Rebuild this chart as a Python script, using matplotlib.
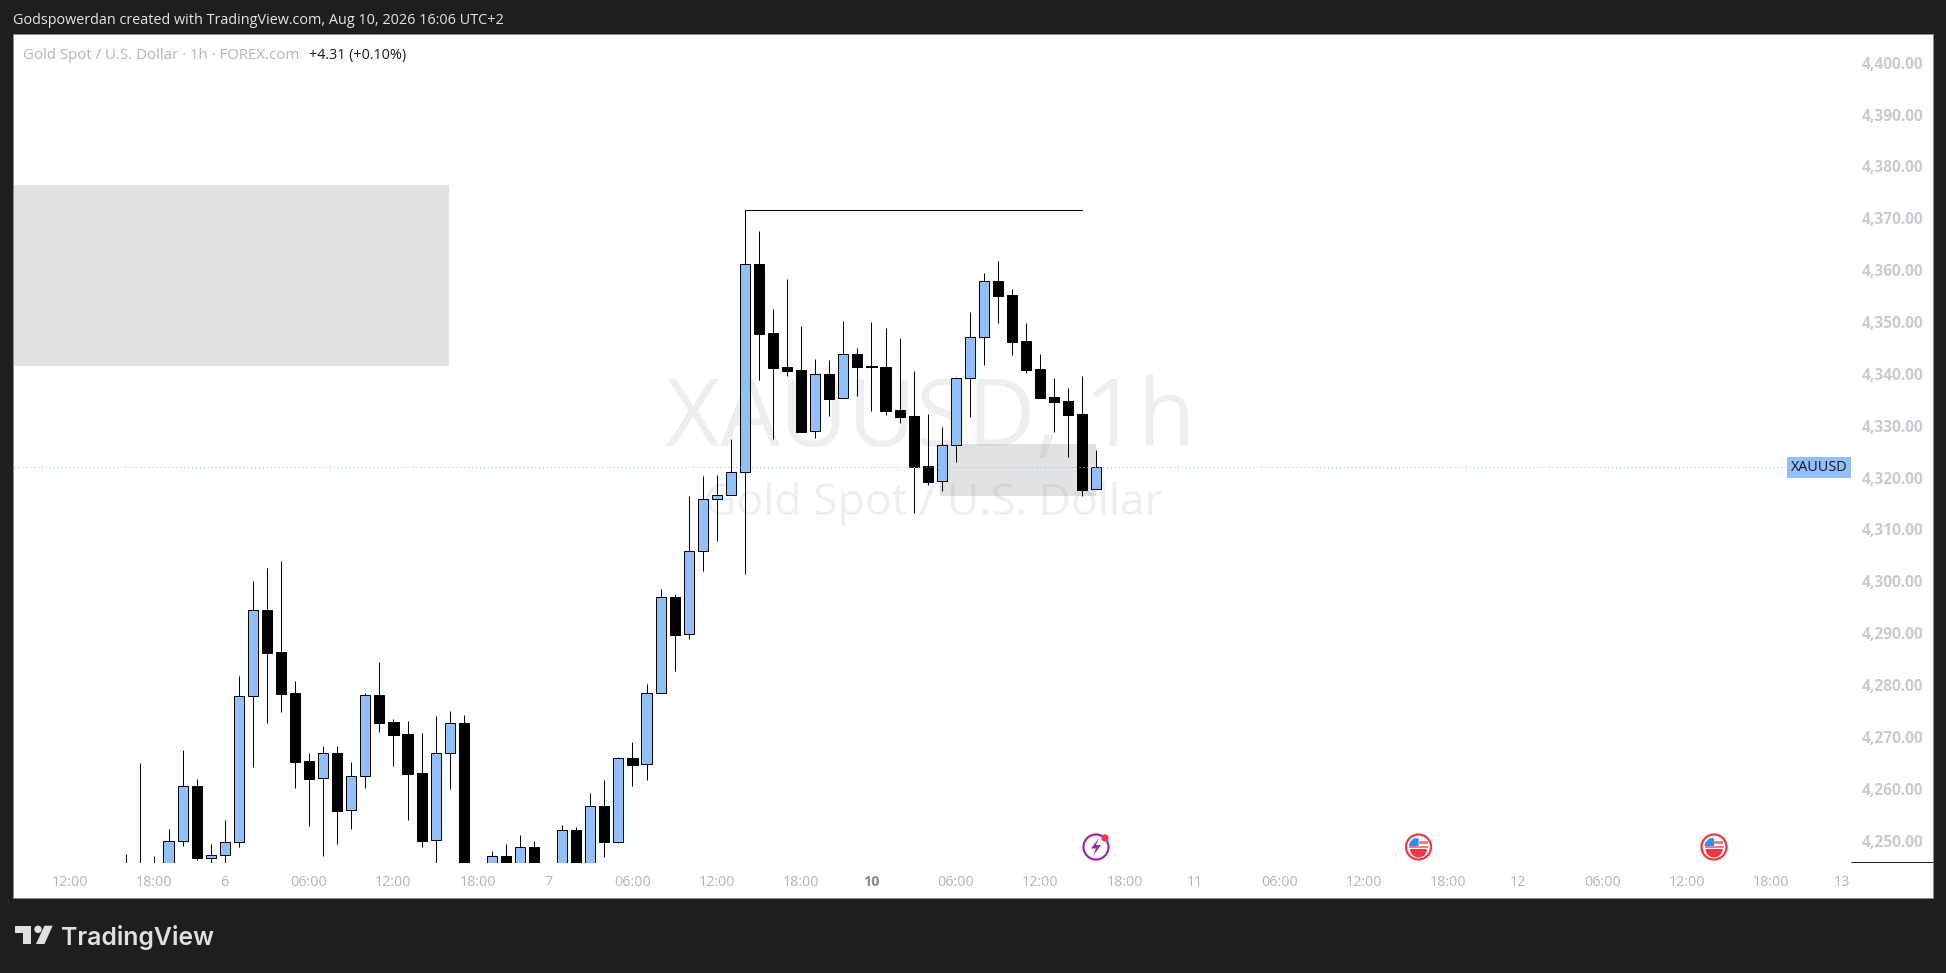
import matplotlib
matplotlib.use("Agg")
import matplotlib.pyplot as plt
from matplotlib.patches import Circle, Polygon, Rectangle, Wedge
from matplotlib.transforms import ScaledTranslation

# bars counted from the first one visible, hidden bodies below the pane are estimates
opens = [4244, 4244, 4244, 4245, 4250.13, 4260.74, 4246.98, 4247.43, 4249.94, 4278.09,
         4294.67, 4286.58, 4278.67, 4265.56, 4262.28, 4267.1, 4256.11, 4262.67, 4278.29, 4273.08,
         4270.77, 4263.25, 4250.33, 4267.1, 4272.95, 4240, 4243, 4247.3, 4243, 4249.04,
         4240, 4243, 4252.26, 4243, 4256.88, 4250.07, 4266.14, 4264.98, 4278.67, 4297.18,
         4290.05, 4306.05, 4316.08, 4316.85, 4321.29, 4361.39, 4348.09, 4341.53, 4340.96, 4329.19,
         4340.18, 4335.56, 4344.04, 4341.73, 4341.53, 4333.24, 4332.09, 4322.44, 4319.55, 4326.5,
         4339.42, 4347.32, 4358.12, 4355.48, 4346.61, 4341.15, 4335.75, 4334.98, 4332.47, 4318.01]
closes = [4242, 4242, 4242, 4250.13, 4260.74, 4246.98, 4247.43, 4249.94, 4278.09, 4294.67,
          4286.51, 4278.61, 4265.49, 4262.22, 4267.1, 4256.05, 4262.67, 4278.29, 4273.0, 4270.7,
          4263.18, 4250.26, 4267.1, 4272.89, 4240, 4238, 4247.24, 4243, 4249.04, 4243,
          4238, 4252.26, 4243, 4256.88, 4250.07, 4266.14, 4264.92, 4278.67, 4297.18, 4289.98,
          4306.05, 4316.08, 4316.85, 4321.29, 4361.39, 4348.03, 4341.47, 4340.89, 4329.13, 4340.18,
          4335.49, 4344.04, 4341.66, 4341.66, 4333.18, 4332.02, 4322.31, 4319.49, 4326.5, 4339.42,
          4347.32, 4358.12, 4355.36, 4346.49, 4341.09, 4335.69, 4334.92, 4332.41, 4317.95, 4322.25]
highs = [4247.69, 4265.24, 4247.3, 4252.51, 4267.74, 4262.15, 4249.62, 4254.25, 4282.0, 4300.33,
         4302.84, 4304.19, 4281.05, 4267.17, 4268.52, 4268.52, 4265.43, 4278.74, 4284.71, 4273.72,
         4273.3, 4271.02, 4274.3, 4275.27, 4274.49, 4245, 4248.27, 4249.62, 4251.35, 4250.2,
         4245, 4253.28, 4252.9, 4259.45, 4261.95, 4266.39, 4269.29, 4280.47, 4298.79, 4297.82,
         4316.72, 4320.58, 4320.77, 4327.71, 4371.81, 4367.82, 4352.78, 4358.57, 4349.5, 4343.14,
         4342.95, 4350.47, 4345.26, 4350.27, 4349.12, 4347.19, 4340.83, 4332.54, 4330.03, 4339.67,
         4352.21, 4359.73, 4362.04, 4356.64, 4350.09, 4344.11, 4339.48, 4337.55, 4339.87, 4325.6]
lows = [4240, 4240, 4240, 4240, 4249.3, 4246.53, 4245.5, 4245, 4249.1, 4264.47,
        4273.0, 4275.14, 4260.48, 4253.15, 4247.37, 4249.68, 4252.57, 4260.48, 4271.28, 4264.72,
        4254.31, 4249.1, 4245, 4260.29, 4238, 4236, 4240, 4240, 4240, 4240,
        4236, 4240, 4240, 4240, 4247.18, 4249.88, 4260.87, 4262.02, 4278.67, 4283.04,
        4289.21, 4302.32, 4308.11, 4316.85, 4301.75, 4339.09, 4327.78, 4339.93, 4329.13, 4327.97,
        4332.21, 4335.56, 4336.07, 4333.18, 4332.41, 4330.86, 4313.51, 4318.91, 4317.75, 4323.35,
        4332.02, 4342.05, 4350.15, 4343.98, 4340.51, 4335.69, 4329.13, 4324.31, 4316.79, 4318.01]

price_ticks = [4250, 4260, 4270, 4280, 4290, 4300, 4310, 4320, 4330, 4340, 4350, 4360, 4370, 4380, 4390, 4400]
time_ticks = [-4, 2, 7, 13, 19, 25, 30, 36, 42, 48, 53, 59, 65, 71, 76, 82, 88, 94, 99, 105, 111, 117, 122]
time_labels = ["12:00", "18:00", "6", "06:00", "12:00", "18:00", "7", "06:00", "12:00", "18:00", "10",
               "06:00", "12:00", "18:00", "11", "06:00", "12:00", "18:00", "12", "06:00", "12:00", "18:00", "13"]

last_price = 4322.25
swing_high = 4371.81
zone_upper = (-8.5, 22.95, 4341.8, 4376.7)
zone_lower = (57.87, 69.0, 4316.73, 4326.75)

UP = "#90bff9"
TICK = "#b2b5be"
FONT = "Open Sans"
PX = 0.71  # just under one pixel, so snapped lines stay one pixel wide

W, H = 1946, 973
fig = plt.figure(figsize=(W / 100, H / 100), dpi=100, facecolor="#1e1e1e")

# frame, header and logo in pixel coordinates
bg = fig.add_axes([0, 0, 1, 1])
bg.set_xlim(0, W)
bg.set_ylim(H, 0)
bg.axis("off")
bg.add_patch(Rectangle((13, 33.5), 1920, 864, fc="white", ec="#8a8a8a", lw=PX))
bg.text(13, 20.5, "Godspowerdan created with TradingView.com, Aug 10, 2026 16:06 UTC+2",
        color="#e6e6e6", fontsize=10.4, family=FONT, va="center")
bg.text(23, 55.5, "Gold Spot / U.S. Dollar · 1h · FOREX.com", color=TICK, fontsize=10.8, family=FONT, va="center")
bg.text(309, 55.5, "+4.31 (+0.10%)", color="#131722", fontsize=10.4, family=FONT, va="center")
bg.text(931, 422, "XAUUSD, 1h", color="#eeeeee", fontsize=67.5, family=FONT, ha="center", va="center")
bg.text(933, 503, "Gold Spot / U.S. Dollar", color="#eeeeee", fontsize=32, family=FONT, ha="center", va="center")

logo = "#e0e0e0"
bg.add_patch(Polygon([(15, 925.7), (31, 925.7), (31, 944), (23.3, 944), (23.3, 932.5), (15, 932.5)], fc=logo))
bg.add_patch(Circle((38, 929.3), 3.7, fc=logo))
bg.add_patch(Polygon([(44.5, 925.7), (52.7, 925.7), (44.5, 944), (36, 944)], fc=logo))
bg.text(61, 937, "TradingView", color=logo, fontsize=17.9, family="Inter", weight="semibold", va="center")

# event markers on the time axis (y is flipped here, so 0-180 is the lower half)
purple = "#9c27b0"
bg.add_patch(Circle((1096, 847), 12.5, fc="white", ec=purple, lw=1.6))
bg.add_patch(Polygon([(1099, 838), (1091, 848.5), (1096, 848.5), (1093, 856), (1101, 845), (1096, 845)], fc=purple))
bg.add_patch(Circle((1105, 838), 3.7, fc="#f23645"))
for cx in (1418.5, 1714):
    bg.add_patch(Circle((cx, 847), 12.5, fc="white", ec="#f23645", lw=1.6))
    bg.add_patch(Wedge((cx, 849), 8.5, 0, 180, fc="#f23645"))
    bg.add_patch(Rectangle((cx, 841), 9, 2.5, fc="#f77c80"))
    bg.add_patch(Rectangle((cx - 9.5, 846), 19, 2, fc="#f77c80"))
    bg.add_patch(Polygon([(cx - 9.5, 846), (cx, 846), (cx, 838), (cx - 5, 838.5), (cx - 9, 843)], fc="#2e8ff0"))
bg.plot([1851, 1933], [862, 862], color="#131722", lw=PX, solid_capstyle="butt", snap=True)

# price pane, its limits put bar spacing and price scale on the reference pixels
ax = fig.add_axes([14 / W, 1 - 863 / H, (1851 - 14) / W, (863 - 34) / H])
ax.patch.set_alpha(0)
ax.set_xlim(-7.99, 122.67)
ax.set_ylim(4245.96, 4405.81)
for side in ax.spines.values():
    side.set_visible(False)

ax.add_patch(Rectangle((zone_upper[0], zone_upper[2]), zone_upper[1] - zone_upper[0], zone_upper[3] - zone_upper[2],
                       fc="#787878", alpha=0.21, lw=0, zorder=1))
ax.add_patch(Rectangle((zone_lower[0], zone_lower[2]), zone_lower[1] - zone_lower[0], zone_lower[3] - zone_lower[2],
                       fc="#787878", alpha=0.21, lw=0, zorder=1))

idx = list(range(len(opens)))
ax.vlines(idx, lows, highs, color="black", lw=PX, zorder=2)
for i in idx:
    rising = closes[i] >= opens[i]
    ax.bar(i, abs(closes[i] - opens[i]), bottom=min(opens[i], closes[i]), width=0.72,
           color=UP if rising else "black", edgecolor="black", linewidth=PX, zorder=3)

ax.plot([44, 68], [swing_high, swing_high], color="black", lw=PX, snap=True, zorder=3)
ax.plot([-8, 118.1], [last_price, last_price], color="#90bff9", lw=PX, ls=(0, (1, 3)), snap=True, zorder=4)
ax.add_patch(Rectangle((118.1, last_price - 2.02), 4.57, 4.04, fc=UP, lw=0, zorder=4))
ax.text(120.4, last_price - 0.05, "XAUUSD", color="#131722", fontsize=10.4, family=FONT,
        ha="center", va="center", zorder=5)

ax.yaxis.tick_right()
ax.set_yticks(price_ticks)
ax.set_yticklabels([f"{p:,.2f}" for p in price_ticks], color="#c9cbd2", fontsize=11.2, family=FONT, weight="bold")
ax.tick_params(axis="y", length=0, pad=8)
nudge = ScaledTranslation(0, 1 / 72, fig.dpi_scale_trans)
for lab in ax.get_yticklabels():
    lab.set_transform(lab.get_transform() + nudge)
ax.set_xticks(time_ticks)
ax.set_xticklabels(time_labels, color=TICK, fontsize=10.4, family=FONT)
ax.tick_params(axis="x", length=0, pad=9)
for lab, txt in zip(ax.get_xticklabels(), time_labels):
    if txt == "10":
        lab.set_fontweight("bold")
        lab.set_color("#868993")

fig.savefig("out.png", dpi=100, facecolor=fig.get_facecolor())
